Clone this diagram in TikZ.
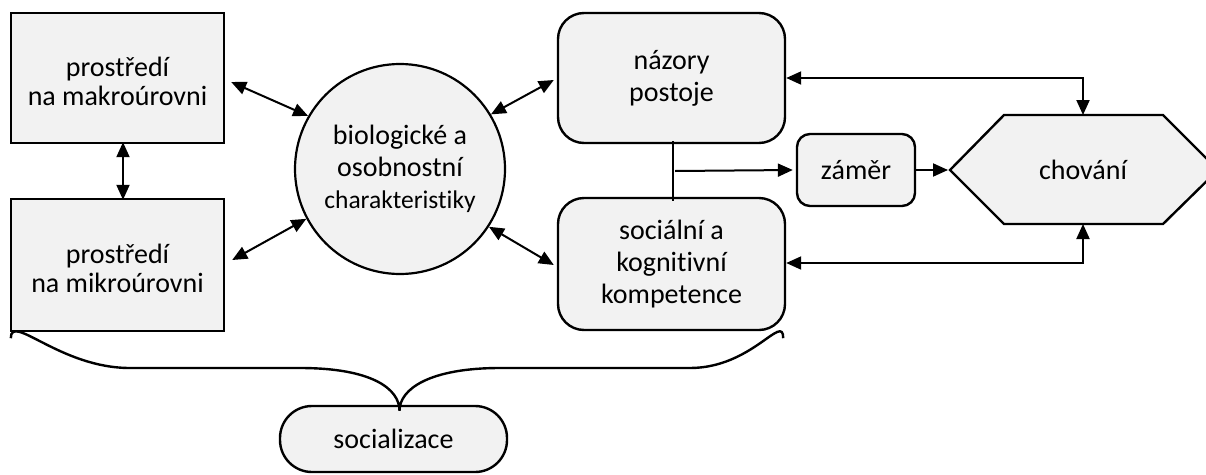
\documentclass[tikz,border=0pt]{standalone}
\usepackage{fontspec}
\setmainfont{Carlito}[Ligatures={NoCommon}]
\usetikzlibrary{arrows.meta,calc}
\definecolor{boxfill}{HTML}{F2F2F2}
\begin{document}
\begin{tikzpicture}[x=1pt,y=-1pt,
  every node/.style={font=\fontsize{28}{32}\selectfont, align=center, inner sep=0pt},
  sqbox/.style={draw, fill=boxfill, line width=2.4pt, minimum width=213pt, font=\fontsize{28}{29}\selectfont},
  rbox/.style={draw, fill=boxfill, line width=2.4pt, rounded corners=26pt, minimum width=227pt},
  conn/.style={line width=2pt},
  biarrow/.style={conn, {Triangle[length=15pt,width=13pt]}-{Triangle[length=15pt,width=13pt]}},
  onearrow/.style={conn, -{Triangle[length=15pt,width=13pt]}}
]
\clip (0,0) rectangle (1206,474);

% left boxes
\node[sqbox, minimum height=130pt] (b1) at (117.5,78) {};
\node[font=\fontsize{28}{29}\selectfont] (b1t) at (117.5,81) {prostředí\\na makroúrovni};
\node[sqbox, minimum height=132pt] (b2) at (117.5,265) {};
\node[font=\fontsize{28}{29}\selectfont] (b2t) at (117.5,268) {prostředí\\na mikroúrovni};

% circle
\node[draw, fill=boxfill, circle, line width=2.2pt, minimum size=210pt] (c) at (400,169)
  {biologické a\\osobnostní\\{\fontsize{25.5}{31}\selectfont charakteristiky}};

% right rounded boxes
\node[rbox, minimum height=130pt] (n) at (671.5,78) {názory\\postoje};
\node[rbox, minimum height=132pt] (s) at (671.5,264) {sociální a\\kognitivní\\kompetence};
\node[draw, fill=boxfill, line width=2.4pt, rounded corners=13pt, minimum width=118pt, minimum height=72pt] (z) at (856,170) {záměr};

% hexagon
\coordinate (hW) at (950,170);
\coordinate (hN) at (1083,115);
\coordinate (hS) at (1083,224);
\draw[fill=boxfill, line width=2.4pt, line join=miter] (hW) -- (1004,115) -- (1163,115) -- (1218,170) -- (1163,224) -- (1004,224) -- cycle;
\node (h) at (1083,170) {chování};

% socialization
\node[draw, fill=boxfill, line width=2.4pt, rounded corners=32pt, minimum width=227pt, minimum height=66pt] (soc) at (393.5,439) {socializace};

% connectors
\draw[biarrow] ([xshift=5.5pt,yshift=2pt]b1.south) -- ([xshift=5.5pt,yshift=-2pt]b2.north);
\draw[biarrow] ([shift={(6,4)}]b1.east) -- (c.150);
\draw[biarrow] ([shift={(7,-5)}]b2.east) -- (c.208);
\draw[biarrow] (c.31) -- ([shift={(-3,2)}]n.west);
\draw[biarrow] (c.-33) -- ([shift={(-3,1)}]s.west);
\draw[biarrow] (n.east) -| (hN);
\draw[biarrow] ([yshift=1pt]s.east) -| (hS);

\coordinate (jt) at ([xshift=1.5pt,yshift=3pt]n.south);
\coordinate (jb) at ([xshift=1.5pt,yshift=-4pt]s.north);
\draw[conn] (jt) -- (jb);
\coordinate (j) at ([xshift=2pt]$(jt)!0.5!(jb)$);
\draw[onearrow] (j) -- ([xshift=-3pt]z.west);
\draw[onearrow] (z.east) -- ([xshift=-2pt]hW);

% brace
\coordinate (brL) at ([shift={(1,6)}]b2.south west);
\coordinate (brR) at ([shift={(-3,7)}]s.south east);
\coordinate (brT) at ([xshift=6pt,yshift=-6pt]soc.north);
\draw[line width=2.4pt] (brL) .. controls ([yshift=26pt]brL) and (60,368) .. (130,368)
  -- (300,368) .. controls (372,368) and ($(brT)+(0,-22)$) .. (brT)
  .. controls ($(brT)+(0,-22)$) and (430,368) .. (500,368)
  -- (690,368) .. controls (752,368) and ([yshift=26pt]brR) .. (brR);
\end{tikzpicture}
\end{document}
